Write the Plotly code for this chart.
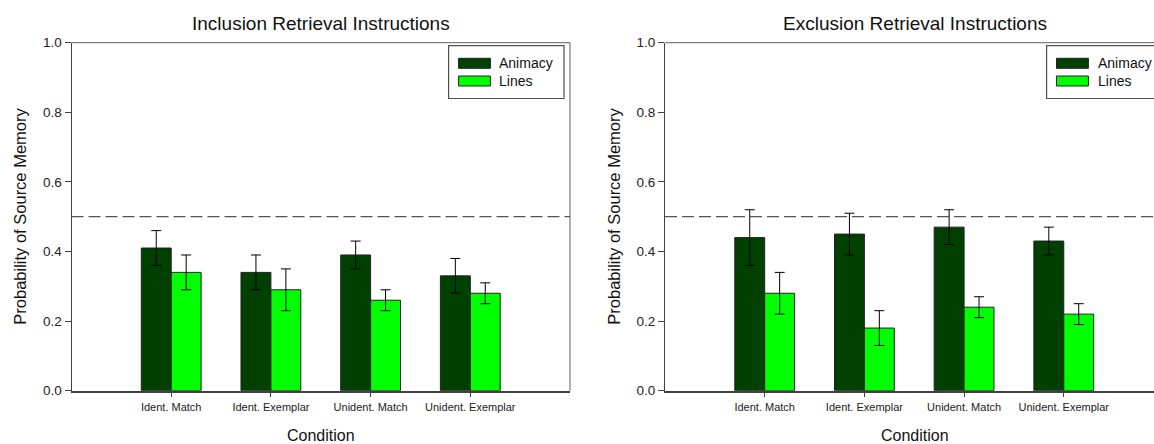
import plotly.graph_objects as go

categories = ["Ident. Match", "Ident. Exemplar", "Unident. Match", "Unident. Exemplar"]

incl_animacy = [0.41, 0.34, 0.39, 0.33]
incl_animacy_err = [0.05, 0.05, 0.04, 0.05]
incl_lines = [0.34, 0.29, 0.26, 0.28]
incl_lines_err = [0.05, 0.06, 0.03, 0.03]

excl_animacy = [0.44, 0.45, 0.47, 0.43]
excl_animacy_err = [0.08, 0.06, 0.05, 0.04]
excl_lines = [0.28, 0.18, 0.24, 0.22]
excl_lines_err = [0.06, 0.05, 0.03, 0.03]

series_names = ["Animacy", "Lines"]
panel_titles = ["Inclusion Retrieval Instructions", "Exclusion Retrieval Instructions"]
y_ticks = [0.0, 0.2, 0.4, 0.6, 0.8, 1.0]
chance_level = 0.5

W, H = 1154, 444
DARK = "#004000"
LIGHT = "#00FF00"
AXC = "#404040"
FONT = "Liberation Sans, Arial, sans-serif"


def px(x):
    return x / W


def py(y):
    return 1 - y / H


fig = go.Figure()

panels = [
    ("x", "y", incl_animacy, incl_animacy_err, incl_lines, incl_lines_err),
    ("x2", "y2", excl_animacy, excl_animacy_err, excl_lines, excl_lines_err),
]
for xa, ya, a, ae, l, le in panels:
    for name, vals, errs, col in [(series_names[0], a, ae, DARK), (series_names[1], l, le, LIGHT)]:
        fig.add_trace(go.Bar(
            x=categories, y=vals, name=name, xaxis=xa, yaxis=ya,
            marker=dict(color=col, line=dict(color="#202020", width=1)),
            error_y=dict(type="data", array=errs, visible=True, color="black",
                         thickness=1, width=5),
            showlegend=False,
        ))

ydom = [py(390.7), py(42.7)]
left_dom = [px(71.5), px(570)]
right_dom = [px(665), 1.0]

common_x = dict(
    type="category", showline=True, linecolor=AXC, linewidth=1.5,
    ticks="outside", ticklen=5, tickcolor=AXC, tickwidth=1,
    tickfont=dict(family=FONT, size=11, color="#222"),
    showgrid=False, zeroline=False, automargin=False,
)
common_y = dict(
    range=[0, 1], tickvals=y_ticks, ticktext=[f"{v:.1f}" for v in y_ticks],
    showline=True, linecolor=AXC, linewidth=1,
    ticks="outside", ticklen=6, tickcolor=AXC, tickwidth=1,
    tickfont=dict(family=FONT, size=13.5, color="#222"),
    showgrid=False, zeroline=False, automargin=False, domain=ydom,
)

fig.update_layout(
    width=W, height=H, autosize=False,
    margin=dict(l=0, r=0, t=0, b=0),
    paper_bgcolor="white", plot_bgcolor="white",
    barmode="group", bargap=0.4, bargroupgap=0.0,
    xaxis=dict(domain=left_dom, range=[-1, 4], anchor="y", **common_x),
    yaxis=dict(anchor="x", **common_y),
    xaxis2=dict(domain=right_dom, range=[-1, 3.905], anchor="y2", **common_x),
    yaxis2=dict(anchor="x2", **common_y),
    font=dict(family=FONT, color="#222"),
)

shapes = []
annotations = []

# frames
shapes.append(dict(type="line", xref="paper", yref="paper", x0=left_dom[0], x1=left_dom[1],
                   y0=ydom[1], y1=ydom[1], line=dict(color="#606060", width=1)))
shapes.append(dict(type="line", xref="paper", yref="paper", x0=left_dom[1], x1=left_dom[1],
                   y0=ydom[0], y1=ydom[1], line=dict(color="#606060", width=1)))
shapes.append(dict(type="line", xref="paper", yref="paper", x0=right_dom[0], x1=1.02,
                   y0=ydom[1], y1=ydom[1], line=dict(color="#606060", width=1)))

# chance lines
for xr, yr in [("x domain", "y"), ("x2 domain", "y2")]:
    shapes.append(dict(type="line", xref=xr, yref=yr, x0=0, x1=1, y0=chance_level, y1=chance_level,
                       line=dict(color="#555555", width=1.2, dash="12px,5px"), layer="above"))

# titles and axis titles
centers = [(left_dom[0] + left_dom[1]) / 2, (right_dom[0] + px(1164)) / 2]
ytitle_x = [px(20), px(614)]
for i in range(2):
    annotations.append(dict(text=panel_titles[i], xref="paper", yref="paper", x=centers[i], y=py(23),
                            showarrow=False, font=dict(family=FONT, size=19, color="#111"),
                            xanchor="center", yanchor="middle"))
    annotations.append(dict(text="Condition", xref="paper", yref="paper", x=centers[i], y=py(435),
                            showarrow=False, font=dict(family=FONT, size=16, color="#111"),
                            xanchor="center", yanchor="middle"))
    annotations.append(dict(text="Probability of Source Memory", xref="paper", yref="paper",
                            x=ytitle_x[i], y=py(216.7), textangle=-90, showarrow=False,
                            font=dict(family=FONT, size=16.5, color="#111"),
                            xanchor="center", yanchor="middle"))

# legends (drawn as boxes with swatches)
legend_boxes = [(448.6, 564.0), (1046.6, 1170.0)]
swatch_x = [(458.6, 490.4), (1056.5, 1088.4)]
text_x = [497.4, 1096.0]
sw_rows = [(58.3, 68.3), (76.0, 86.0)]
for i in range(2):
    bx0, bx1 = legend_boxes[i]
    shapes.append(dict(type="rect", xref="paper", yref="paper", x0=px(bx0), x1=px(bx1),
                       y0=py(98.5), y1=py(45.7), fillcolor="white",
                       line=dict(color="#505050", width=1.2), layer="above"))
    for j, (col, name) in enumerate([(DARK, series_names[0]), (LIGHT, series_names[1])]):
        r0, r1 = sw_rows[j]
        shapes.append(dict(type="rect", xref="paper", yref="paper", x0=px(swatch_x[i][0]),
                           x1=px(swatch_x[i][1]), y0=py(r1), y1=py(r0), fillcolor=col,
                           line=dict(color="#202020", width=1), layer="above"))
        annotations.append(dict(text=name, xref="paper", yref="paper", x=px(text_x[i]),
                                y=py((r0 + r1) / 2), showarrow=False, xanchor="left", yanchor="middle",
                                font=dict(family=FONT, size=14, color="#111")))

fig.update_layout(shapes=shapes, annotations=annotations)

fig.write_html("out.html", config={"displayModeBar": False},
               post_script="document.body.style.margin='0px';document.body.style.overflow='hidden';")
